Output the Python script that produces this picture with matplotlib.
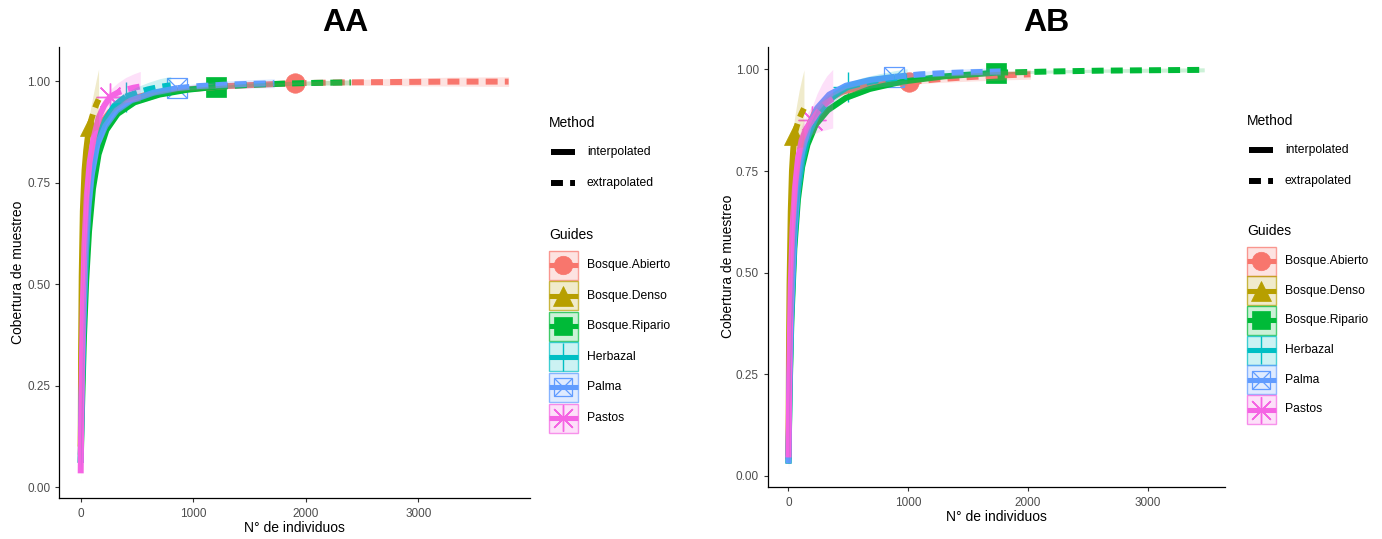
import matplotlib
matplotlib.use("Agg")
import matplotlib.pyplot as plt
from matplotlib.patches import Rectangle
import numpy as np

plt.rcParams['font.family'] = ['Liberation Sans', 'DejaVu Sans']

guides = ["Bosque.Abierto", "Bosque.Denso", "Bosque.Ripario", "Herbazal", "Palma", "Pastos"]
colors = ["#F8766D", "#B79F00", "#00BA38", "#00BFC4", "#619CFF", "#F564E3"]
method_labels = ["interpolated", "extrapolated"]
panel_titles = ["AA", "AB"]
x_ticks = [0, 1000, 2000, 3000]
y_ticks = [0.00, 0.25, 0.50, 0.75, 1.00]
x_title = "N° de individuos"
y_title = "Cobertura de muestreo"

# ---------------- Panel AA ----------------
AA_x_int = {
    "Bosque.Abierto": [1, 10, 25, 50, 80, 120, 180, 260, 400, 600, 900, 1300, 1900],
    "Bosque.Denso":   [1, 5, 10, 20, 35, 50, 65, 80],
    "Bosque.Ripario": [1, 15, 30, 50, 75, 110, 160, 230, 330, 480, 700, 950, 1200],
    "Herbazal":       [1, 10, 25, 45, 70, 100, 150, 220, 300, 400],
    "Palma":          [1, 10, 25, 45, 70, 100, 150, 220, 320, 450, 650, 860],
    "Pastos":         [1, 5, 10, 20, 35, 55, 80, 115, 160, 210, 265],
}
AA_y_int = {
    "Bosque.Abierto": [0.08, 0.33, 0.55, 0.70, 0.79, 0.85, 0.895, 0.925, 0.952, 0.968, 0.979, 0.988, 0.995],
    "Bosque.Denso":   [0.10, 0.35, 0.52, 0.68, 0.78, 0.83, 0.865, 0.89],
    "Bosque.Ripario": [0.06, 0.22, 0.37, 0.51, 0.63, 0.735, 0.82, 0.88, 0.92, 0.948, 0.967, 0.979, 0.986],
    "Herbazal":       [0.06, 0.22, 0.40, 0.56, 0.69, 0.78, 0.855, 0.905, 0.94, 0.962],
    "Palma":          [0.06, 0.23, 0.41, 0.57, 0.69, 0.77, 0.845, 0.89, 0.928, 0.953, 0.972, 0.983],
    "Pastos":         [0.034, 0.15, 0.27, 0.45, 0.60, 0.72, 0.80, 0.86, 0.91, 0.94, 0.962],
}
AA_se_int = {
    "Bosque.Abierto": [0.02, 0.02, 0.02, 0.015, 0.012, 0.01, 0.008, 0.006, 0.005, 0.004, 0.004, 0.003, 0.003],
    "Bosque.Denso":   [0.03, 0.04, 0.04, 0.04, 0.035, 0.03, 0.03, 0.03],
    "Bosque.Ripario": [0.01, 0.02, 0.02, 0.02, 0.018, 0.015, 0.012, 0.01, 0.008, 0.006, 0.005, 0.004, 0.003],
    "Herbazal":       [0.02, 0.03, 0.03, 0.03, 0.025, 0.02, 0.017, 0.014, 0.012, 0.01],
    "Palma":          [0.02, 0.03, 0.03, 0.025, 0.02, 0.018, 0.015, 0.012, 0.01, 0.008, 0.006, 0.005],
    "Pastos":         [0.02, 0.03, 0.04, 0.04, 0.035, 0.03, 0.028, 0.025, 0.022, 0.02, 0.018],
}
AA_x_ext = {
    "Bosque.Abierto": [1900, 2300, 2800, 3300, 3800],
    "Bosque.Denso":   [80, 100, 120, 140, 160],
    "Bosque.Ripario": [1200, 1500, 1800, 2100, 2400],
    "Herbazal":       [400, 500, 600, 700, 800],
    "Palma":          [860, 1050, 1250, 1450, 1720],
    "Pastos":         [265, 330, 400, 470, 530],
}
AA_y_ext = {
    "Bosque.Abierto": [0.995, 0.997, 0.998, 0.999, 0.999],
    "Bosque.Denso":   [0.89, 0.91, 0.928, 0.943, 0.955],
    "Bosque.Ripario": [0.986, 0.991, 0.994, 0.996, 0.997],
    "Herbazal":       [0.962, 0.972, 0.98, 0.986, 0.99],
    "Palma":          [0.983, 0.988, 0.991, 0.993, 0.995],
    "Pastos":         [0.962, 0.972, 0.979, 0.984, 0.987],
}
AA_se_ext = {
    "Bosque.Abierto": [0.003, 0.006, 0.009, 0.011, 0.012],
    "Bosque.Denso":   [0.03, 0.04, 0.05, 0.062, 0.075],
    "Bosque.Ripario": [0.003, 0.004, 0.005, 0.006, 0.006],
    "Herbazal":       [0.01, 0.014, 0.017, 0.02, 0.022],
    "Palma":          [0.005, 0.007, 0.009, 0.01, 0.011],
    "Pastos":         [0.018, 0.024, 0.03, 0.034, 0.037],
}

# ---------------- Panel AB ----------------
AB_x_int = {
    "Bosque.Abierto": [1, 10, 25, 45, 70, 100, 150, 220, 320, 450, 650, 850, 1010],
    "Bosque.Denso":   [1, 5, 10, 20, 30, 40, 50],
    "Bosque.Ripario": [1, 10, 25, 50, 80, 115, 160, 230, 330, 480, 680, 950, 1300, 1734],
    "Herbazal":       [1, 10, 25, 50, 80, 120, 170, 240, 330, 420, 496],
    "Palma":          [1, 10, 25, 50, 80, 120, 170, 240, 340, 480, 680, 885],
    "Pastos":         [1, 5, 10, 20, 35, 55, 80, 110, 150, 200],
}
AB_y_int = {
    "Bosque.Abierto": [0.04, 0.28, 0.48, 0.62, 0.72, 0.79, 0.85, 0.895, 0.925, 0.945, 0.96, 0.966, 0.969],
    "Bosque.Denso":   [0.05, 0.30, 0.47, 0.65, 0.75, 0.80, 0.838],
    "Bosque.Ripario": [0.03, 0.20, 0.38, 0.56, 0.68, 0.76, 0.815, 0.865, 0.90, 0.93, 0.952, 0.97, 0.983, 0.992],
    "Herbazal":       [0.03, 0.22, 0.40, 0.58, 0.70, 0.78, 0.84, 0.888, 0.922, 0.943, 0.957],
    "Palma":          [0.03, 0.24, 0.42, 0.60, 0.72, 0.80, 0.86, 0.905, 0.938, 0.96, 0.974, 0.982],
    "Pastos":         [0.045, 0.17, 0.30, 0.47, 0.61, 0.71, 0.78, 0.826, 0.855, 0.875],
}
AB_se_int = {
    "Bosque.Abierto": [0.02, 0.03, 0.03, 0.03, 0.025, 0.02, 0.016, 0.013, 0.011, 0.009, 0.007, 0.006, 0.006],
    "Bosque.Denso":   [0.03, 0.05, 0.05, 0.05, 0.045, 0.04, 0.04],
    "Bosque.Ripario": [0.01, 0.02, 0.02, 0.02, 0.018, 0.015, 0.012, 0.01, 0.008, 0.006, 0.005, 0.004, 0.003, 0.003],
    "Herbazal":       [0.02, 0.03, 0.03, 0.03, 0.025, 0.02, 0.018, 0.016, 0.014, 0.012, 0.011],
    "Palma":          [0.02, 0.03, 0.03, 0.025, 0.02, 0.018, 0.015, 0.012, 0.01, 0.008, 0.006, 0.005],
    "Pastos":         [0.02, 0.03, 0.04, 0.04, 0.04, 0.035, 0.035, 0.035, 0.035, 0.035],
}
AB_x_ext = {
    "Bosque.Abierto": [1010, 1250, 1500, 1750, 2020],
    "Bosque.Denso":   [50, 70, 90, 110, 130],
    "Bosque.Ripario": [1734, 2200, 2600, 3000, 3470],
    "Herbazal":       [496, 620, 750, 870, 990],
    "Palma":          [885, 1100, 1300, 1500, 1770],
    "Pastos":         [200, 240, 280, 320, 370],
}
AB_y_ext = {
    "Bosque.Abierto": [0.969, 0.976, 0.981, 0.985, 0.988],
    "Bosque.Denso":   [0.838, 0.86, 0.878, 0.892, 0.904],
    "Bosque.Ripario": [0.992, 0.995, 0.997, 0.998, 0.999],
    "Herbazal":       [0.957, 0.966, 0.973, 0.978, 0.982],
    "Palma":          [0.982, 0.988, 0.991, 0.993, 0.995],
    "Pastos":         [0.875, 0.893, 0.907, 0.918, 0.928],
}
AB_se_ext = {
    "Bosque.Abierto": [0.006, 0.008, 0.01, 0.011, 0.012],
    "Bosque.Denso":   [0.04, 0.055, 0.07, 0.083, 0.095],
    "Bosque.Ripario": [0.003, 0.004, 0.004, 0.005, 0.005],
    "Herbazal":       [0.011, 0.014, 0.016, 0.018, 0.02],
    "Palma":          [0.005, 0.007, 0.008, 0.009, 0.01],
    "Pastos":         [0.035, 0.048, 0.058, 0.066, 0.072],
}

# ---------------- styling ----------------
W, H = 1382, 539
LW = 4.3
DASH = (0, (2.0, 1.2))
TICK_COLOR = "#4D4D4D"

marker_style = {
    "Bosque.Abierto": dict(marker="o", ms=14, filled=True),
    "Bosque.Denso":   dict(marker="^", ms=15, filled=True),
    "Bosque.Ripario": dict(marker="s", ms=14, filled=True),
    "Herbazal":       dict(marker="+", ms=21, filled=False),
    "Palma":          dict(marker="boxx", ms=14, filled=False),
    "Pastos":         dict(marker=(8, 2, 0), ms=20, filled=False),
}


def draw_marker(ax, x, y, name, color, scale=1.0, z=2):
    st = marker_style[name]
    ms = st["ms"] * scale
    if st["marker"] == "boxx":
        ax.plot([x], [y], marker="s", ms=ms, mfc="none", mec=color, mew=0.9, ls="none", zorder=z)
        ax.plot([x], [y], marker="x", ms=ms, mec=color, mew=0.9, ls="none", zorder=z)
    elif st["filled"]:
        ax.plot([x], [y], marker=st["marker"], ms=ms, mfc=color, mec=color, mew=0.5, ls="none", zorder=z)
    else:
        ax.plot([x], [y], marker=st["marker"], ms=ms, mec=color, mew=1.0, ls="none", zorder=z)


def px_rect(x0, x1, y0, y1):
    return [x0 / W, 1 - y1 / H, (x1 - x0) / W, (y1 - y0) / H]


fig = plt.figure(figsize=(W / 100, H / 100), dpi=100)

panels = [
    dict(xi=AA_x_int, yi=AA_y_int, si=AA_se_int, xe=AA_x_ext, ye=AA_y_ext, se=AA_se_ext,
         rect=px_rect(59.3, 530, 46.7, 497.7), ylim=(-0.026, 1.085),
         xlab_y=528, ylab_x=18, title_x=345),
    dict(xi=AB_x_int, yi=AB_y_int, si=AB_se_int, xe=AB_x_ext, ye=AB_y_ext, se=AB_se_ext,
         rect=px_rect(767.7, 1225, 46.7, 486.7), ylim=(-0.027, 1.056),
         xlab_y=517, ylab_x=728, title_x=1046),
]

for p, ttl in zip(panels, panel_titles):
    ax = fig.add_axes(p["rect"])
    xmax = max(max(v) for v in p["xe"].values())
    xmin = 1
    r = xmax - xmin
    ax.set_xlim(xmin - 0.05 * r, xmax + 0.05 * r)
    ax.set_ylim(*p["ylim"])
    # points first (under lines), then lines, then ribbons
    for name, col in zip(guides, colors):
        draw_marker(ax, p["xi"][name][-1], p["yi"][name][-1], name, col, z=2)
    for k, (name, col) in enumerate(zip(guides, colors)):
        ax.plot(p["xi"][name], p["yi"][name], color=col, lw=LW, solid_capstyle="butt",
                solid_joinstyle="round", zorder=3 + k * 0.01)
        ax.plot(p["xe"][name], p["ye"][name], color=col, lw=LW, ls=DASH,
                dash_capstyle="butt", zorder=3 + k * 0.01)
    for name, col in zip(guides, colors):
        xs = np.array(p["xi"][name] + p["xe"][name][1:], dtype=float)
        ys = np.array(p["yi"][name] + p["ye"][name][1:], dtype=float)
        ss = np.array(p["si"][name] + p["se"][name][1:], dtype=float)
        ax.fill_between(xs, ys - ss, ys + ss, color=col, alpha=0.2, lw=0, zorder=4)

    ax.set_xticks(x_ticks)
    ax.set_yticks(y_ticks)
    ax.set_yticklabels([f"{v:.2f}" for v in y_ticks])
    for s in ["top", "right"]:
        ax.spines[s].set_visible(False)
    for s in ["left", "bottom"]:
        ax.spines[s].set_linewidth(0.9)
        ax.spines[s].set_color("black")
    ax.tick_params(axis="both", length=3, width=0.8, color="#333333",
                   labelsize=8.5, labelcolor=TICK_COLOR)
    ax.tick_params(axis="x", pad=4.5)
    ax.tick_params(axis="y", pad=3.5)
    ax.set_facecolor("white")

    fig.text(p["title_x"] / W, 1 - 23 / H, ttl, ha="center", va="center",
             fontsize=23, fontweight="bold")
    pos = ax.get_position()
    fig.text((pos.x0 + pos.x1) / 2, 1 - p["xlab_y"] / H, x_title, ha="center",
             va="center", fontsize=10)
    fig.text(p["ylab_x"] / W, (pos.y0 + pos.y1) / 2, y_title, ha="center",
             va="center", rotation=90, fontsize=10)

# ---------------- legends ----------------
lg = fig.add_axes([0, 0, 1, 1], zorder=10)
lg.set_xlim(0, W)
lg.set_ylim(H, 0)
lg.axis("off")

legend_pos = [
    dict(x=549, method_y=123, interp_y=152, extrap_y=183, guides_y=235, first=265, step=30.6),
    dict(x=1247, method_y=121, interp_y=150, extrap_y=181, guides_y=231, first=261, step=29.7),
]
KEY = 29
for L in legend_pos:
    x0 = L["x"]
    lg.text(x0, L["method_y"], "Method", ha="left", va="center", fontsize=10)
    lg.plot([x0 + 2, x0 + 26], [L["interp_y"]] * 2, color="black", lw=LW, solid_capstyle="butt")
    lg.plot([x0 + 2, x0 + 26], [L["extrap_y"]] * 2, color="black", lw=LW, ls=DASH, dash_capstyle="butt")
    lg.text(x0 + 38, L["interp_y"], method_labels[0], ha="left", va="center", fontsize=8.7)
    lg.text(x0 + 38, L["extrap_y"], method_labels[1], ha="left", va="center", fontsize=8.7)
    lg.text(x0, L["guides_y"], "Guides", ha="left", va="center", fontsize=10)
    for i, (name, col) in enumerate(zip(guides, colors)):
        cy = L["first"] + i * L["step"]
        cx = x0 + KEY / 2
        draw_marker(lg, cx, cy, name, col, scale=0.95, z=11)
        lg.plot([x0, x0 + KEY], [cy, cy], color=col, lw=LW * 0.85, solid_capstyle="butt", zorder=12)
        lg.add_patch(Rectangle((x0, cy - KEY / 2), KEY, KEY, facecolor=col, alpha=0.2,
                               edgecolor="none", zorder=13))
        lg.add_patch(Rectangle((x0, cy - KEY / 2), KEY, KEY, facecolor="none",
                               edgecolor=col, lw=1.0, alpha=0.7, zorder=13))
        lg.text(x0 + 38, cy, name, ha="left", va="center", fontsize=8.7)

fig.savefig("out.png", dpi=100, facecolor="white")
